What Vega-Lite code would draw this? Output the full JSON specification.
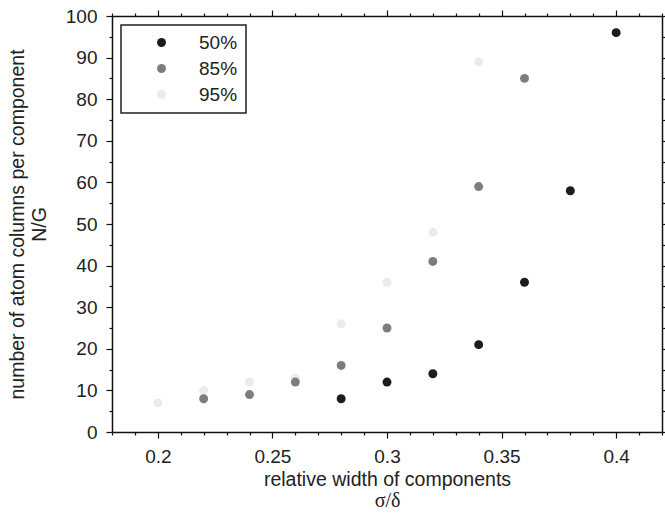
{
  "$schema": "https://vega.github.io/schema/vega-lite/v6.json",
  "width": 550,
  "height": 416,
  "autosize": {"type": "none"},
  "padding": {"left": 112, "top": 16, "right": 3, "bottom": 83},
  "background": "white",
  "config": {
    "view": {"stroke": null},
    "axis": {
      "domainColor": "#111",
      "domainWidth": 1.5,
      "tickColor": "#111",
      "tickWidth": 1.2,
      "grid": false,
      "labelFont": "Liberation Sans",
      "labelFontSize": 19,
      "labelColor": "#222",
      "titleFont": "Liberation Sans",
      "titleFontSize": 19.5,
      "titleFontWeight": "normal",
      "titleColor": "#222",
      "labelOverlap": false,
      "labelFlush": false
    },
    "legend": {
      "orient": "none",
      "legendX": 9,
      "legendY": 9,
      "padding": 8,
      "strokeColor": "#222",
      "strokeWidth": 1.5,
      "fillColor": "white",
      "symbolType": "circle",
      "symbolSize": 80,
      "symbolStrokeWidth": 0,
      "symbolOffset": 23,
      "labelOffset": 28,
      "labelFont": "Liberation Sans",
      "labelFontSize": 19,
      "labelColor": "#222",
      "rowPadding": 6
    }
  },
  "data": {
    "values": [
      {"s": 0.20, "ng": 7, "level": "95%"},
      {"s": 0.22, "ng": 10, "level": "95%"},
      {"s": 0.24, "ng": 12, "level": "95%"},
      {"s": 0.26, "ng": 13, "level": "95%"},
      {"s": 0.28, "ng": 26, "level": "95%"},
      {"s": 0.30, "ng": 36, "level": "95%"},
      {"s": 0.32, "ng": 48, "level": "95%"},
      {"s": 0.34, "ng": 89, "level": "95%"},
      {"s": 0.22, "ng": 8, "level": "85%"},
      {"s": 0.24, "ng": 9, "level": "85%"},
      {"s": 0.26, "ng": 12, "level": "85%"},
      {"s": 0.28, "ng": 16, "level": "85%"},
      {"s": 0.30, "ng": 25, "level": "85%"},
      {"s": 0.32, "ng": 41, "level": "85%"},
      {"s": 0.34, "ng": 59, "level": "85%"},
      {"s": 0.36, "ng": 85, "level": "85%"},
      {"s": 0.28, "ng": 8, "level": "50%"},
      {"s": 0.30, "ng": 12, "level": "50%"},
      {"s": 0.32, "ng": 14, "level": "50%"},
      {"s": 0.34, "ng": 21, "level": "50%"},
      {"s": 0.36, "ng": 36, "level": "50%"},
      {"s": 0.38, "ng": 58, "level": "50%"},
      {"s": 0.40, "ng": 96, "level": "50%"}
    ]
  },
  "layer": [
    {
      "mark": {"type": "point", "filled": true, "opacity": 1, "size": 80, "strokeWidth": 0},
      "encoding": {
        "x": {
          "field": "s", "type": "quantitative",
          "scale": {"domain": [0.18, 0.42], "nice": false, "zero": false},
          "axis": {
            "orient": "bottom",
            "title": "relative width of components",
            "titlePadding": 4,
            "values": [0.18,0.19,0.2,0.21,0.22,0.23,0.24,0.25,0.26,0.27,0.28,0.29,0.3,0.31,0.32,0.33,0.34,0.35,0.36,0.37,0.38,0.39,0.4,0.41,0.42],
            "labelExpr": "abs(datum.value*20-round(datum.value*20))<1e-6 ? format(datum.value,'~g') : ''",
            "tickSize": {"condition": {"test": "abs(datum.value*20-round(datum.value*20))<1e-6", "value": 6}, "value": 3},
            "labelPadding": 9
          }
        },
        "y": {
          "field": "ng", "type": "quantitative",
          "scale": {"domain": [0, 100], "nice": false},
          "axis": {
            "orient": "left",
            "title": ["number of atom columns per component", "N/G"],
            "titleLineHeight": 22,
            "titlePadding": 16,
            "values": [0,5,10,15,20,25,30,35,40,45,50,55,60,65,70,75,80,85,90,95,100],
            "labelExpr": "datum.value % 10 == 0 ? datum.label : ''",
            "tickSize": {"condition": {"test": "datum.value % 10 == 0", "value": 6}, "value": 3},
            "labelPadding": 9
          }
        },
        "color": {
          "field": "level", "type": "nominal",
          "scale": {"domain": ["50%", "85%", "95%"], "range": ["#1c1c1c", "#7d7d7d", "#ebebeb"]},
          "legend": {"title": null}
        }
      }
    },
    {
      "mark": {"type": "point", "filled": true, "opacity": 0},
      "encoding": {
        "x": {
          "field": "s", "type": "quantitative",
          "axis": {
            "orient": "top",
            "title": null,
            "labels": false,
            "values": [0.18,0.19,0.2,0.21,0.22,0.23,0.24,0.25,0.26,0.27,0.28,0.29,0.3,0.31,0.32,0.33,0.34,0.35,0.36,0.37,0.38,0.39,0.4,0.41,0.42],
            "tickSize": {"condition": {"test": "abs(datum.value*20-round(datum.value*20))<1e-6", "value": 6}, "value": 3}
          }
        },
        "y": {
          "field": "ng", "type": "quantitative",
          "axis": {
            "orient": "right",
            "title": null,
            "labels": false,
            "values": [0,5,10,15,20,25,30,35,40,45,50,55,60,65,70,75,80,85,90,95,100],
            "tickSize": {"condition": {"test": "datum.value % 10 == 0", "value": 6}, "value": 3}
          }
        }
      }
    },
    {
      "mark": {"type": "point", "filled": true, "opacity": 0},
      "encoding": {
        "x": {
          "field": "s", "type": "quantitative",
          "axis": {
            "orient": "bottom",
            "title": "σ/δ",
            "titleFont": "Liberation Serif",
            "titleFontSize": 20,
            "titleY": 68,
            "titleBaseline": "middle",
            "labels": false,
            "ticks": false,
            "domain": false
          }
        },
        "y": {"field": "ng", "type": "quantitative", "axis": null}
      }
    }
  ],
  "resolve": {"axis": {"x": "independent", "y": "independent"}}
}
